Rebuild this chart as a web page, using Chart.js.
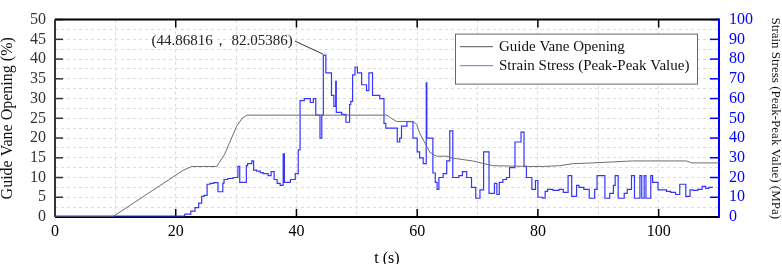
<!DOCTYPE html>
<html>
<head>
<meta charset="utf-8">
<script src="https://cdn.jsdelivr.net/npm/chart.js@4.4.1/dist/chart.umd.min.js"></script>
<style>
  body { margin: 0; background: #fff; }
  #wrap { width: 782px; height: 264px; }
</style>
</head>
<body>
<div id="wrap"><canvas id="gvChart" width="782" height="264"></canvas></div>
<script>
// guide vane opening (%), left axis
const vaneTime = [0, 9.5, 21.2, 22.7, 26.8, 28.1, 30.1, 31, 31.8, 55, 55.8, 56.6, 59.3, 59.9, 60.4, 61.3, 62.1, 63.2, 64.9, 65.9, 69.2, 72.5, 78.6, 81, 83.6, 85.8, 89, 95.7, 104.6, 105.5, 110];
const vaneOpening = [0, 0, 11.8, 12.8, 12.8, 15.9, 23, 25, 25.8, 25.8, 24.9, 24.2, 24.2, 23.5, 21.3, 18.7, 16.4, 15.4, 15.4, 14.9, 14.2, 13.0, 12.8, 12.8, 13.0, 13.5, 13.7, 14.2, 14.2, 13.7, 13.7];

// strain stress peak-peak (MPa), right axis, step values starting at each time
const stressTime = [0, 21.5, 22.5, 23.2, 23.8, 24.3, 24.7, 25.2, 25.7, 26.3, 27.0, 27.8, 28.0, 28.6, 29.5, 30.3, 30.6, 31.7, 31.9, 32.6, 32.9, 33.4, 34.0, 34.5, 35.3, 35.8, 36.3, 36.8, 37.3, 37.8, 38.0, 39.0, 39.8, 40.3, 40.6, 41.3, 42.3, 42.8, 43.2, 43.9, 44.2, 44.45, 44.86816, 45.8, 46.2, 46.5, 46.6, 47.5, 48.2, 48.8, 49.0, 49.3, 49.7, 50.1, 50.8, 51.6, 52.0, 52.6, 53.8, 54.5, 54.8, 56.7, 57.1, 57.4, 58.3, 59.3, 60.0, 60.4, 61.0, 61.5, 61.6, 62.6, 63.0, 63.3, 63.6, 64.3, 64.9, 65.4, 65.9, 66.9, 67.5, 68.2, 69.0, 69.7, 70.4, 71.0, 71.9, 72.8, 73.2, 73.6, 74.2, 74.8, 75.3, 76.2, 77.2, 77.7, 78.1, 79.0, 79.6, 80.0, 80.8, 81.2, 81.6, 82.5, 83.5, 84.2, 85.0, 85.6, 86.4, 86.8, 87.6, 88.5, 89.4, 89.8, 91.1, 91.9, 92.5, 92.8, 93.3, 94.3, 94.8, 95.5, 96.0, 96.9, 97.2, 97.6, 97.9, 98.7, 99.0, 99.9, 101.3, 102.0, 102.8, 103.5, 104.5, 105.2, 105.7, 106.5, 107.2, 107.8, 108.3, 109.0];
const stressValue = [0, 0.5, 1.5, 3, 4.7, 7, 10.4, 11, 16.6, 17, 17.4, 12.8, 17.2, 19, 19.5, 20, 25.6, 17.5, 26, 27, 28.4, 23.7, 23.2, 22.5, 22, 21, 23, 19, 17, 16, 32, 17.5, 19, 22, 34, 59, 60, 58, 60, 51.6, 40, 51.6, 82.05386, 73, 61.6, 56, 68.7, 53, 52, 48, 57, 58.6, 72, 76, 73, 67, 64, 73, 61.6, 60, 47.4, 45, 38, 40, 46, 48.3, 40, 33, 30, 27, 68, 40, 22.3, 17.5, 14, 20, 22, 28.4, 43.6, 20, 21, 23, 20, 15, 9.5, 13.7, 33, 12, 17, 11.4, 17.5, 19, 20, 25, 38, 43, 25.6, 20, 14, 18.5, 10, 9.5, 13, 14, 13.5, 14, 12.5, 21, 10.4, 16, 15, 14, 9.5, 14, 21, 9.5, 12, 16, 21, 9.5, 12, 14, 21, 9.5, 21, 9.5, 21, 9.5, 21, 17.5, 13.7, 13, 12.5, 11.4, 16.6, 10.4, 13.7, 13.5, 14, 15.5, 14.5, 15];

const peakPoint = { t: 44.86816, v: 82.05386 };
const peakLabel = "(44.86816\uFF0C 82.05386)";

const serif = "'Liberation Serif', 'Times New Roman', serif";

const framePlugin = {
  id: "frame",
  beforeDatasetsDraw(chart) {
    const { ctx, chartArea: a, scales } = chart;
    const x = scales.x, yl = scales.y, yr = scales.y1;
    ctx.save();
    // inward ticks
    ctx.lineWidth = 1.5;
    ctx.strokeStyle = "#000";
    for (let t = 0; t <= 110; t += 20) {
      const px = x.getPixelForValue(t);
      ctx.beginPath();
      ctx.moveTo(px, a.bottom); ctx.lineTo(px, a.bottom - 8);
      ctx.moveTo(px, a.top); ctx.lineTo(px, a.top + 8);
      ctx.stroke();
    }
    ctx.strokeStyle = "#333";
    for (let v = 0; v <= 50; v += 5) {
      const py = yl.getPixelForValue(v);
      ctx.beginPath(); ctx.moveTo(a.left, py); ctx.lineTo(a.left + 8, py); ctx.stroke();
    }
    ctx.strokeStyle = "#0000ff";
    for (let v = 0; v <= 100; v += 10) {
      const py = yr.getPixelForValue(v);
      ctx.beginPath(); ctx.moveTo(a.right, py); ctx.lineTo(a.right - 9, py); ctx.stroke();
    }
    // frame
    ctx.lineWidth = 2;
    ctx.strokeStyle = "#000";
    ctx.beginPath(); ctx.moveTo(a.left, a.top); ctx.lineTo(a.right, a.top); ctx.stroke();
    ctx.beginPath(); ctx.moveTo(a.left, a.bottom); ctx.lineTo(a.right, a.bottom); ctx.stroke();
    ctx.strokeStyle = "#333";
    ctx.beginPath(); ctx.moveTo(a.left, a.top); ctx.lineTo(a.left, a.bottom); ctx.stroke();
    ctx.strokeStyle = "#0000ff";
    ctx.beginPath(); ctx.moveTo(a.right, a.top - 1); ctx.lineTo(a.right, a.bottom + 1); ctx.stroke();
    ctx.restore();
  },
  afterDraw(chart) {
    const { ctx, chartArea: a, scales } = chart;
    ctx.save();
    // peak annotation
    const px = scales.x.getPixelForValue(peakPoint.t);
    const py = scales.y1.getPixelForValue(peakPoint.v);
    ctx.strokeStyle = "#333";
    ctx.lineWidth = 1;
    ctx.beginPath(); ctx.moveTo(px - 31, py - 14); ctx.lineTo(px - 3, py - 1); ctx.stroke();
    ctx.fillStyle = "#222";
    ctx.font = "15px " + serif;
    ctx.textAlign = "right";
    ctx.textBaseline = "middle";
    ctx.fillText(peakLabel, px - 33, py - 14);

    // legend box
    const bx = a.right - 264, by = a.top + 14, bw = 242, bh = 50;
    ctx.fillStyle = "#fff";
    ctx.fillRect(bx, by, bw, bh);
    ctx.strokeStyle = "#666";
    ctx.lineWidth = 1;
    ctx.strokeRect(bx + 0.5, by + 0.5, bw, bh);
    chart.data.datasets.forEach((ds, i) => {
      const ry = by + 13 + i * 19;
      ctx.strokeStyle = ds.legendColor;
      ctx.lineWidth = 1.3;
      ctx.beginPath(); ctx.moveTo(bx + 5, ry); ctx.lineTo(bx + 38, ry); ctx.stroke();
      ctx.fillStyle = "#111";
      ctx.font = "15px " + serif;
      ctx.textAlign = "left";
      ctx.fillText(ds.label, bx + 44, ry);
    });
    ctx.restore();
  }
};

const ctx = document.getElementById("gvChart").getContext("2d");
const gvChart = new Chart(ctx, {
  type: "line",
  data: {
    datasets: [
      {
        label: "Guide Vane Opening",
        data: vaneTime.map((t, i) => ({ x: t, y: vaneOpening[i] })),
        yAxisID: "y",
        borderColor: "#6e6e6e",
        legendColor: "#777",
        borderWidth: 1,
        pointRadius: 0,
        tension: 0,
      },
      {
        label: "Strain Stress (Peak-Peak Value)",
        data: stressTime.map((t, i) => ({ x: t, y: stressValue[i] })),
        yAxisID: "y1",
        borderColor: "#3535ff",
        legendColor: "#8a8aff",
        borderWidth: 1.2,
        pointRadius: 0,
        stepped: "after",
      },
    ],
  },
  options: {
    responsive: false,
    devicePixelRatio: 1,
    animation: false,
    layout: { padding: { top: 6, left: 0, right: 0, bottom: 0 } },
    plugins: { legend: { display: false }, tooltip: { enabled: false } },
    scales: {
      x: {
        type: "linear",
        min: 0,
        max: 110,
        afterFit: (s) => { s.height = 47; },
        ticks: {
          stepSize: 10,
          autoSkip: false,
          maxRotation: 0,
          padding: 5,
          color: "#000",
          font: { family: serif, size: 16 },
          callback: (v) => (v % 20 === 0 ? v : ""),
        },
        grid: { color: "#dcdcdc", lineWidth: 1, drawTicks: false },
        border: { display: false, dash: [3, 3] },
        title: {
          display: true,
          text: "t (s)",
          color: "#000",
          font: { family: serif, size: 16, lineHeight: 1 },
          padding: { top: 0, bottom: -3 },
        },
      },
      y: {
        position: "left",
        min: 0,
        max: 50,
        afterFit: (s) => { s.width = 55; },
        ticks: {
          stepSize: 2.5,
          autoSkip: false,
          padding: 9,
          color: "#333",
          font: { family: serif, size: 16 },
          callback: (v) => (v % 5 === 0 ? v : ""),
        },
        grid: { color: "#dcdcdc", lineWidth: 1, drawTicks: false },
        border: { display: false, dash: [3, 3] },
        title: {
          display: true,
          text: "Guide Vane Opening (%)",
          color: "#111",
          font: { family: serif, size: 16, lineHeight: 1 },
          padding: { top: 0, bottom: 0 },
        },
      },
      y1: {
        position: "right",
        min: 0,
        max: 100,
        afterFit: (s) => { s.width = 63; },
        ticks: {
          stepSize: 10,
          autoSkip: false,
          padding: 10,
          color: "#0000ff",
          font: { family: serif, size: 16 },
        },
        grid: { drawOnChartArea: false, drawTicks: false },
        border: { display: false },
        title: {
          display: true,
          text: "Strain Stress (Peak-Peak Value) (MPa)",
          color: "#111",
          font: { family: serif, size: 13, lineHeight: 1 },
          padding: { top: 0, bottom: 0 },
        },
      },
    },
  },
  plugins: [framePlugin],
});
</script>
</body>
</html>
